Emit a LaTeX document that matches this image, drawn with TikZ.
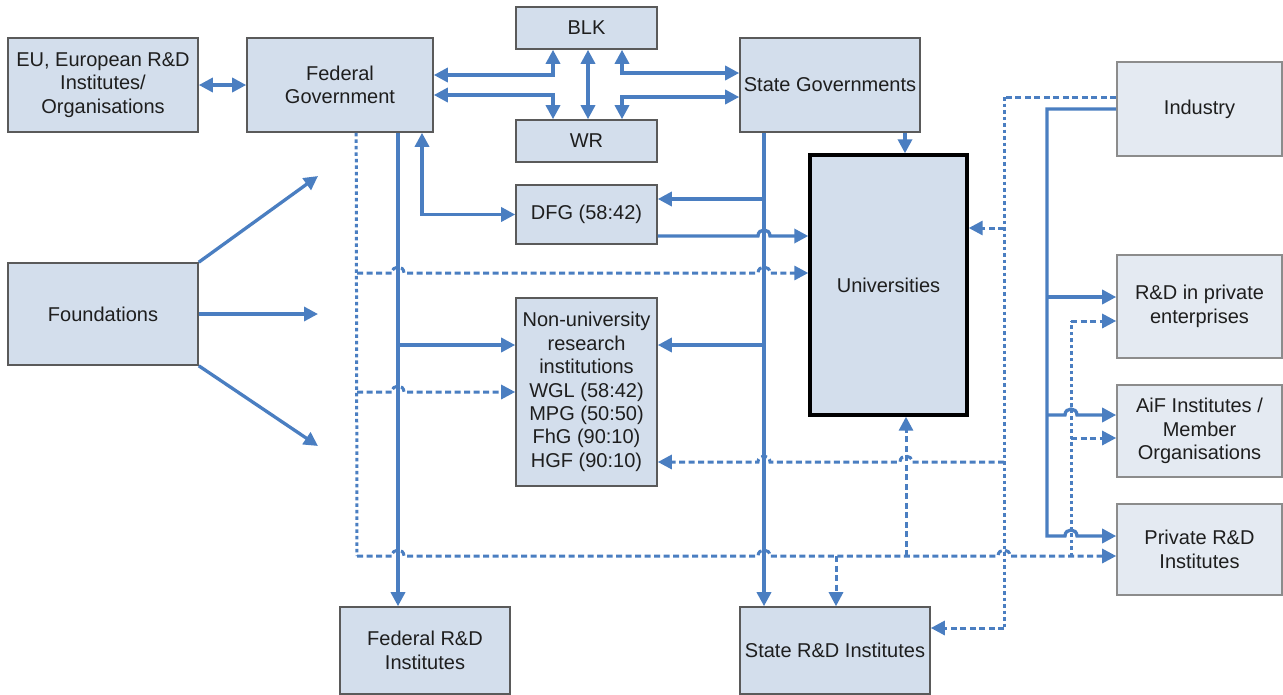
\documentclass[tikz,border=0pt]{standalone}
\usepackage{fontspec}
\setmainfont{Liberation Sans}
\usetikzlibrary{arrows.meta}
\definecolor{arrc}{RGB}{74,126,193}
\definecolor{boxfill}{RGB}{211,222,236}
\definecolor{boxfillL}{RGB}{228,234,242}
\definecolor{boxline}{RGB}{90,90,90}
\definecolor{boxlineL}{RGB}{140,140,140}
\definecolor{txt}{RGB}{30,30,30}
\begin{document}
\begin{tikzpicture}[x=1pt,y=-1pt,
  box/.style={draw=boxline, fill=boxfill, line width=1.6pt, align=center, inner sep=0pt, text=txt, font=\fontsize{20}{23.4}\selectfont},
  boxL/.style={box, draw=boxlineL, fill=boxfillL},
  conn/.style={draw=arrc, line width=3.3pt},
  dconn/.style={draw=arrc, line width=3pt, dash pattern=on 6pt off 3.5pt},
  dotconn/.style={draw=arrc, line width=3pt, dash pattern=on 3.5pt off 3pt},
  oneway/.style={-{Triangle[length=14pt,width=14pt]}},
  twoway/.style={{Triangle[length=14pt,width=14pt]}-{Triangle[length=14pt,width=14pt]}}
]
\fill[white] (0,0) rectangle (1283,694);
\useasboundingbox (0,0) rectangle (1283,694);

% nodes
\node[box, minimum width=190, minimum height=94] (eu) at (103,85) {EU, European R\&D\\Institutes/\\Organisations};
\node[box, minimum width=186, minimum height=94] (fed) at (340,85) {Federal\\Government};
\node[box, minimum width=141, minimum height=42] (blk) at (586.5,28) {BLK};
\node[box, minimum width=141, minimum height=42] (wr) at (586.5,141) {WR};
\node[box, minimum width=180, minimum height=94] (stg) at (830,85) {State Governments};
\node[boxL, minimum width=165, minimum height=94] (ind) at (1199.5,109) {Industry};
\node[box, minimum width=141, minimum height=59] (dfg) at (586.5,214.5) {DFG (58:42)};
\node[box, draw=black, line width=3.4pt, minimum width=157, minimum height=260] (uni) at (888.5,285) {Universities};
\node[box, minimum width=190, minimum height=102] (fdn) at (103,314) {Foundations};
\node[box, minimum width=141, minimum height=188] (nur) at (586.5,392) {Non-university\\research\\institutions\\WGL (58:42)\\MPG (50:50)\\FhG (90:10)\\HGF (90:10)};
\node[boxL, minimum width=165, minimum height=103] (rdp) at (1199.5,306.5) {R\&D in private\\enterprises};
\node[boxL, minimum width=165, minimum height=92] (aif) at (1199.5,431) {AiF Institutes /\\Member\\Organisations};
\node[boxL, minimum width=165, minimum height=91] (prd) at (1199.5,549.5) {Private R\&D\\Institutes};
\node[box, minimum width=170, minimum height=87] (fri) at (425,650.5) {Federal R\&D\\Institutes};
\node[box, minimum width=190, minimum height=87] (sri) at (835,650.5) {State R\&D Institutes};

\coordinate (f1) at (318,176);
\coordinate (f2) at (318,314);
\coordinate (f3) at (318,446);

% solid connectors
\draw[conn, twoway] (eu) -- (fed);
\draw[conn, twoway] (fed.east |- 0,75) -| ([xshift=-33.5pt]blk.south);
\draw[conn, twoway] (fed.east |- 0,95) -| ([xshift=-33.5pt]wr.north);
\draw[conn, twoway] ([xshift=1.5pt]blk.south) -- ([xshift=1.5pt]wr.north);
\draw[conn, twoway] ([xshift=35.5pt]blk.south) |- (stg.west |- 0,73);
\draw[conn, twoway] ([xshift=35.5pt]wr.north) |- (stg.west |- 0,97);
\draw[conn, twoway] ([xshift=82pt]fed.south) |- (dfg.west);
\draw[conn, oneway] ([xshift=58pt]fed.south) -- ([xshift=-27pt]fri.north);
\draw[conn, oneway] (398,345) -- (nur.west |- 0,345);
\draw[conn, oneway] ([xshift=-66pt]stg.south) -- ([xshift=-71pt]sri.north);
\draw[conn, oneway] (764,199) -- (dfg.east |- 0,199);
\draw[conn, oneway] (764,345) -- (nur.east |- 0,345);
\draw[conn, oneway] (stg.south -| 905,0) -- (uni.north -| 905,0);
\draw[conn, oneway] (dfg.east |- 0,236) -- (758,236) .. controls (758,228) and (770,228) .. (770,236) -- (uni.west |- 0,236);
\draw[conn, oneway] (fdn.north east) -- (f1);
\draw[conn, oneway] (fdn.east) -- (f2);
\draw[conn, oneway] (fdn.south east) -- (f3);

% industry solid
\draw[conn, oneway] (ind.west |- 0,109) -- (1047,109) -- (1047,536) -- (1065,536) .. controls (1065,528) and (1077,528) .. (1077,536) -- (prd.west |- 0,536);
\draw[conn, oneway] (1047,297) -- (rdp.west |- 0,297);
\draw[conn, oneway] (1047,415) -- (1065,415) .. controls (1065,407) and (1077,407) .. (1077,415) -- (aif.west |- 0,415);

% dashed connectors: federal government
\draw[dotconn] ([xshift=110pt]fed.south west) -- (357,556);
\draw[dconn, oneway] (357,556) -- (392,556) .. controls (392,548) and (404,548) .. (404,556) -- (758,556) .. controls (758,548) and (770,548) .. (770,556) -- (998,556) .. controls (998,548) and (1010,548) .. (1010,556) -- (prd.west |- 0,556);
\draw[dconn, oneway] (357,273) -- (392,273) .. controls (392,265) and (404,265) .. (404,273) -- (758,273) .. controls (758,265) and (770,265) .. (770,273) -- (uni.west |- 0,273);
\draw[dconn, oneway] (357,392) -- (392,392) .. controls (392,384) and (404,384) .. (404,392) -- (nur.west |- 0,392);
\draw[dconn, oneway] (836,556) -- (sri.north -| 836,0);
\draw[dconn, oneway] (906,556) -- (uni.south -| 906,0);
\draw[dotconn] (1071,556) -- (1071,321);
\draw[dconn, oneway] (1071,321) -- (rdp.west |- 0,321);
\draw[dconn, oneway] (1071,438) -- (aif.west |- 0,438);

% dashed connectors: industry
\draw[dconn] (ind.west |- 0,97) -- (1004,97);
\draw[dotconn] (1004,97) -- (1004,628);
\draw[dconn, oneway] (1004,628) -- (sri.east |- 0,628);
\draw[dconn, oneway] (1004,228) -- (uni.east |- 0,228);
\draw[dconn, oneway] (1004,462) -- (912,462) .. controls (912,454) and (900,454) .. (900,462) -- (770,462) .. controls (770,454) and (758,454) .. (758,462) -- (nur.east |- 0,462);
\end{tikzpicture}
\end{document}
